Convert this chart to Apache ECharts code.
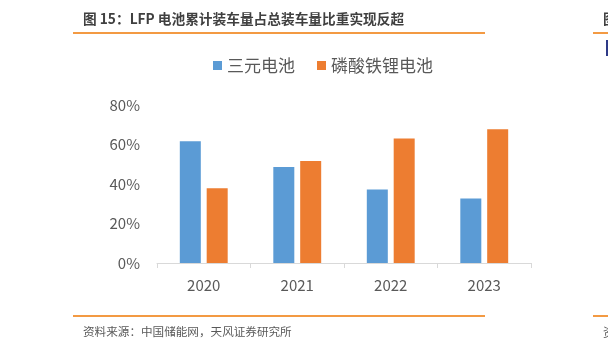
<!DOCTYPE html>
<html>
<head>
<meta charset="utf-8">
<script src="https://cdn.jsdelivr.net/npm/echarts@6/dist/echarts.min.js"></script>
<style>
  html, body { margin: 0; padding: 0; background: #fff; }
  #chart { width: 608px; height: 352px; }
</style>
</head>
<body>
<div id="chart"></div>
<script>
// 年份 + 两个系列的占比（%）
const years = ['2020', '2021', '2022', '2023']
const ncmShare = [61.6, 48.6, 37.2, 32.7]     // 三元电池
const lfpShare = [37.9, 51.6, 63.1, 67.7]     // 磷酸铁锂电池
const seriesNames = ['三元电池', '磷酸铁锂电池']
const yTicks = [0, 20, 40, 60, 80]

const cjk = '"Noto Sans CJK SC", "Noto Sans", sans-serif'
const orangeLine = '#f39a43'

let myChart = echarts.init(document.getElementById('chart'))
let option = {
    color: ['#5b9bd5', '#ed7d31'],
    animation: false,
    textStyle: { fontFamily: cjk },
    legend: {
        data: seriesNames,
        left: 208,
        top: 52,
        icon: 'rect',
        itemWidth: 9,
        itemHeight: 9,
        itemGap: 22,
        textStyle: { fontSize: 17, color: '#595959', fontFamily: cjk }
    },
    grid: {
        left: 157,
        right: 77,
        top: 105,
        bottom: 89
    },
    xAxis: {
        type: 'category',
        data: years,
        axisLine: { lineStyle: { color: '#d9d9d9', width: 1 } },
        axisTick: { show: true, length: 5, lineStyle: { color: '#d9d9d9' } },
        axisLabel: { fontSize: 15, color: '#595959', margin: 15, fontFamily: cjk }
    },
    yAxis: {
        type: 'value',
        min: yTicks[0],
        max: yTicks[yTicks.length - 1],
        interval: 20,
        axisLine: { show: false },
        axisTick: { show: false },
        splitLine: { show: false },
        axisLabel: {
            fontSize: 15,
            color: '#595959',
            margin: 17,
            fontFamily: cjk,
            formatter: '{value}%'
        }
    },
    series: [
        {
            name: seriesNames[0],
            type: 'bar',
            barWidth: 21,
            barGap: '28%',
            data: ncmShare
        },
        {
            name: seriesNames[1],
            type: 'bar',
            barWidth: 21,
            data: lfpShare
        }
    ],
    graphic: [
        {
            type: 'text',
            left: 83,
            top: 12,
            style: {
                text: '图 15：LFP 电池累计装车量占总装车量比重实现反超',
                font: 'bold 13.7px ' + cjk,
                fill: '#404040'
            }
        },
        {
            type: 'rect',
            shape: { x: 73, y: 32, width: 412, height: 2 },
            style: { fill: orangeLine }
        },
        {
            type: 'rect',
            shape: { x: 73, y: 315, width: 412, height: 2 },
            style: { fill: orangeLine }
        },
        {
            type: 'text',
            left: 83,
            top: 326,
            style: {
                text: '资料来源：中国储能网，天风证券研究所',
                font: '11.6px ' + cjk,
                fill: '#595959'
            }
        },
        // 右侧相邻图的边缘
        {
            type: 'rect',
            shape: { x: 593, y: 32, width: 15, height: 2 },
            style: { fill: orangeLine }
        },
        {
            type: 'rect',
            shape: { x: 593, y: 315, width: 15, height: 2 },
            style: { fill: orangeLine }
        },
        {
            type: 'text',
            x: 603,
            y: 12,
            style: { text: '图', font: 'bold 14px ' + cjk, fill: '#404040' }
        },
        {
            type: 'rect',
            shape: { x: 606, y: 40, width: 2, height: 16 },
            style: { fill: '#2e3a87' }
        },
        {
            type: 'text',
            x: 603,
            y: 326,
            style: { text: '资', font: '12px ' + cjk, fill: '#595959' }
        }
    ]
}
myChart.setOption(option)
</script>
</body>
</html>
